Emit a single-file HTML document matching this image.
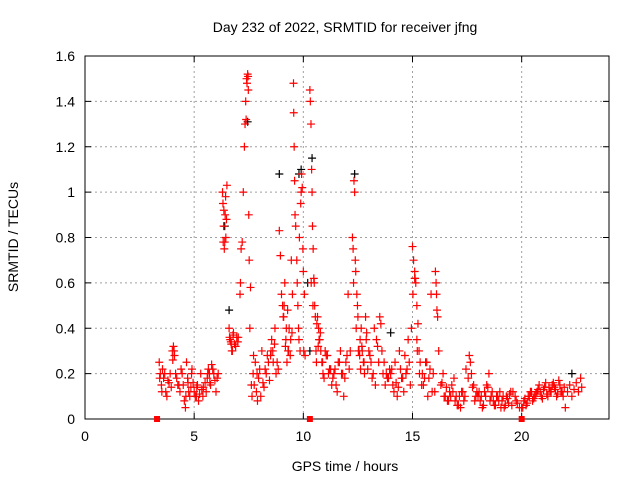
<!DOCTYPE html>
<html><head><meta charset="utf-8"><style>
body{margin:0;background:#fff}
svg{display:block;font-family:"Liberation Sans",sans-serif}
</style></head><body>
<svg id="chart" width="640" height="480" viewBox="0 0 640 480">
<rect width="640" height="480" fill="#fff"/>
<g id="grid"></g>
<g id="axes"></g>
<g id="marks"></g>
<text x="345" y="32" font-size="14" text-anchor="middle">Day 232 of 2022, SRMTID for receiver jfng</text>
<text x="345" y="471" font-size="14" text-anchor="middle">GPS time / hours</text>
<text x="18" y="237" font-size="14" text-anchor="middle" transform="rotate(-90 18 237)">SRMTID / TECUs</text>
</svg>
<script>
const xTicks=[0,5,10,15,20];
const yTicks=[0,0.2,0.4,0.6,0.8,1,1.2,1.4,1.6];
const yTickLabels=["0","0.2","0.4","0.6","0.8","1","1.2","1.4","1.6"];
const redTimes=[3.4,3.45,3.5,3.55,3.6,3.7,3.75,3.8,3.9,3.95,
4.0,4.05,4.1,4.2,4.3,4.4,
4.45,4.5,4.55,4.6,4.65,4.7,4.75,4.8,4.85,4.9,4.95,
5.0,5.1,5.15,5.2,5.3,5.35,5.4,5.5,5.55,
5.6,5.65,5.7,5.75,5.8,5.9,5.95,6.0,6.1,
6.3,6.32,6.35,6.38,6.4,6.42,6.45,6.48,6.5,
6.6,6.65,6.7,6.75,6.8,6.9,6.95,7.0,
7.1,7.12,7.15,7.2,7.25,7.3,7.33,7.36,7.4,7.45,7.48,7.5,7.52,7.55,7.58,
7.65,7.7,7.75,7.8,7.85,7.9,7.95,8.0,8.1,8.2,8.3,8.4,8.45,
8.5,8.55,8.6,8.7,8.75,8.8,8.9,8.95,9.0,
9.05,9.1,9.15,9.2,9.25,9.3,9.35,9.4,9.45,9.5,
9.55,9.56,9.58,9.6,9.62,9.65,9.7,9.72,9.75,9.78,9.8,9.85,9.88,9.9,9.95,10.0,10.05,
10.3,10.32,10.35,10.38,10.4,10.42,10.45,10.48,10.5,10.52,10.55,10.58,10.6,
10.65,10.7,10.75,10.8,10.85,10.9,10.95,11.0,11.1,11.2,11.3,11.4,
11.5,11.6,11.7,11.8,11.85,11.9,12.0,12.1,12.15,
12.25,12.28,12.3,12.32,12.35,12.38,12.4,12.45,12.48,12.5,12.55,
12.6,12.65,12.7,12.75,12.8,12.85,12.9,13.0,13.1,13.2,13.3,13.4,
13.5,13.55,13.6,13.7,13.8,13.9,13.95,
14.0,14.1,14.2,14.3,14.4,14.5,14.6,14.7,14.8,14.85,14.9,
15.0,15.05,15.1,15.15,15.2,15.25,15.3,15.35,15.2,15.1,
15.45,15.5,15.6,15.7,15.75,15.8,15.9,15.95,
16.05,16.08,16.1,16.12,16.15,16.2,
16.3,16.4,16.5,16.6,16.7,16.8,16.9,17.0,17.1,17.2,17.3,17.4,
17.6,17.65,17.7,17.8,17.9,17.95,
18.0,18.1,18.2,18.3,18.4,18.5,18.6,18.7,18.8,18.9,19.0,19.1,19.2,19.3,19.4,19.5,19.7,19.9,
20.0,20.1,20.2,20.3,20.4,20.5,20.6,20.7,20.8,20.9,21.0,21.1,21.2,21.3,21.4,21.5,21.6,21.7,21.8,21.9,22.0,22.2,22.4,22.7,
3.42,3.52,3.65,3.85,4.02,4.08,4.15,4.25,4.35,4.62,4.72,4.88,5.05,5.12,5.25,5.42,5.62,5.72,5.85,6.05,
6.33,6.36,6.44,6.62,6.68,6.72,6.78,6.85,7.02,7.38,7.42,7.47,7.62,7.72,7.88,8.05,8.15,8.25,8.35,8.52,8.62,8.68,8.85,
9.08,9.12,9.18,9.22,9.28,9.32,9.42,9.48,9.82,9.92,9.98,10.02,10.08,10.36,10.44,10.62,10.68,10.72,10.78,10.88,11.05,11.15,11.25,11.35,
11.45,11.55,11.65,11.75,11.95,12.05,12.42,12.52,12.58,12.62,12.68,12.78,12.88,12.95,13.05,13.15,13.25,13.35,13.45,13.65,13.75,13.85,
14.05,14.15,14.25,14.35,14.45,14.55,14.65,14.75,14.95,15.02,15.12,15.22,15.32,15.42,15.55,15.65,15.85,16.02,16.35,16.45,16.55,16.65,16.75,16.85,16.95,
17.05,17.15,17.25,17.35,17.45,17.55,17.75,17.85,18.05,18.15,18.25,18.35,18.45,18.55,18.65,18.75,18.85,18.95,19.05,19.15,19.25,19.35,19.45,19.55,19.6,19.75,19.8,
20.05,20.15,20.25,20.35,20.45,20.55,20.65,20.75,20.85,20.95,21.05,21.15,21.25,21.35,21.45,21.55,21.65,21.75,21.85,21.95,22.1,22.3,22.5,22.6,22.75,22.8];
const redValues=[0.25,0.2,0.15,0.22,0.18,0.12,0.1,0.17,0.2,0.14,
0.3,0.32,0.28,0.18,0.15,0.22,
0.2,0.15,0.08,0.05,0.25,0.18,0.12,0.1,0.14,0.22,0.16,
0.12,0.1,0.15,0.08,0.2,0.13,0.1,0.16,0.12,
0.18,0.22,0.2,0.15,0.24,0.2,0.17,0.12,0.2,
1.0,0.95,0.85,0.75,0.78,0.9,0.8,0.88,1.03,
0.4,0.35,0.33,0.3,0.38,0.32,0.36,0.34,
0.55,0.6,0.75,0.78,1.0,1.2,1.3,1.4,1.5,1.52,1.45,0.9,0.7,0.4,0.58,
0.1,0.2,0.15,0.25,0.12,0.08,0.18,0.22,0.3,0.14,0.2,0.25,0.17,
0.28,0.35,0.3,0.4,0.2,0.25,0.83,0.72,0.55,
0.5,0.45,0.6,0.35,0.25,0.3,0.4,0.28,0.7,0.55,
1.48,1.35,1.2,1.05,0.9,0.85,0.7,0.6,0.5,0.4,0.35,0.3,0.95,1.0,1.02,0.65,0.55,
1.45,1.4,1.3,1.1,1.0,0.85,0.75,0.62,0.6,0.5,0.45,0.3,0.25,
0.45,0.4,0.35,0.3,0.25,0.2,0.18,0.3,0.28,0.22,0.15,0.2,
0.15,0.25,0.3,0.2,0.1,0.18,0.28,0.22,0.3,
0.8,0.75,0.6,1.05,1.0,0.7,0.65,0.55,0.5,0.45,0.3,
0.35,0.4,0.3,0.25,0.2,0.45,0.38,0.3,0.25,0.2,0.15,0.32,
0.45,0.42,0.3,0.25,0.2,0.18,0.22,
0.2,0.15,0.25,0.1,0.3,0.18,0.12,0.2,0.35,0.25,0.15,
0.76,0.7,0.65,0.6,0.5,0.42,0.3,0.25,0.35,0.62,
0.2,0.15,0.25,0.1,0.18,0.22,0.12,0.2,
0.65,0.6,0.55,0.48,0.45,0.3,
0.15,0.2,0.1,0.08,0.12,0.15,0.18,0.1,0.06,0.05,0.12,0.1,
0.28,0.25,0.2,0.15,0.1,0.12,
0.1,0.08,0.05,0.12,0.15,0.2,0.1,0.08,0.06,0.1,0.12,0.08,0.05,0.1,0.07,0.12,0.1,0.05,
0.05,0.08,0.06,0.1,0.12,0.08,0.1,0.12,0.15,0.1,0.13,0.16,0.1,0.12,0.15,0.14,0.1,0.17,0.12,0.1,0.05,0.15,0.13,0.18,
0.18,0.12,0.2,0.16,0.26,0.3,0.2,0.15,0.12,0.1,0.16,0.2,0.1,0.14,0.11,0.14,0.2,0.16,0.22,0.18,
0.78,0.92,0.98,0.36,0.34,0.3,0.37,0.33,0.36,1.32,1.48,1.51,0.15,0.28,0.2,0.1,0.16,0.22,0.28,0.3,0.25,0.33,0.22,
0.45,0.5,0.32,0.4,0.48,0.3,0.35,0.38,0.8,1.08,0.75,0.3,0.28,0.6,0.5,0.42,0.32,0.35,0.38,0.25,0.28,0.2,0.22,
0.18,0.22,0.12,0.25,0.2,0.25,0.55,0.4,0.3,0.28,0.22,0.32,0.25,0.35,0.22,0.28,0.18,0.4,0.35,0.25,0.2,0.15,
0.18,0.22,0.12,0.16,0.14,0.22,0.18,0.28,0.22,0.4,0.55,0.62,0.3,0.2,0.15,0.18,0.25,0.55,0.12,0.16,0.1,0.14,0.08,0.1,0.12,
0.08,0.06,0.1,0.12,0.08,0.22,0.18,0.14,0.08,0.12,0.1,0.06,0.1,0.14,0.08,0.12,0.06,0.1,0.08,0.05,0.1,0.06,0.09,0.11,0.06,0.12,0.08,
0.07,0.05,0.09,0.07,0.1,0.12,0.09,0.11,0.13,0.12,0.09,0.14,0.11,0.14,0.12,0.16,0.13,0.11,0.15,0.12,0.14,0.12,0.1,0.16,0.12,0.14];
const blackTimes=[6.4,6.6,7.45,8.9,9.8,9.9,10.2,10.3,10.4,12.35,14.0,22.3];
const blackValues=[0.85,0.48,1.31,1.08,1.08,1.1,0.6,0.3,1.15,1.08,0.38,0.2];
const gapTimes=[3.3,10.3,20.0];
const X0=85,X1=609,Y0=419,Y1=56;
const xs=t=>X0+(t/24)*(X1-X0);
const ys=v=>Y0-(v/1.6)*(Y0-Y1);
const NS='http://www.w3.org/2000/svg';
function mk(tag,at,parent){const e=document.createElementNS(NS,tag);for(const k in at)e.setAttribute(k,at[k]);parent.appendChild(e);return e;}
const grid=document.getElementById('grid'),axes=document.getElementById('axes'),marks=document.getElementById('marks');
xTicks.forEach(t=>{
 if(t>0){const g=mk('line',{x1:xs(t),x2:xs(t),y1:Y1,y2:Y0,stroke:'#a0a0a0','stroke-dasharray':'2,3'},grid);
 
 }
 mk('line',{x1:xs(t),x2:xs(t),y1:Y0,y2:Y0-6,stroke:'#000'},axes);
 mk('line',{x1:xs(t),x2:xs(t),y1:Y1,y2:Y1+6,stroke:'#000'},axes);
 const l=mk('text',{x:xs(t),y:Y0+22,'font-size':14,'text-anchor':'middle'},axes);l.textContent=t;
 
 
});
yTicks.forEach((v,i)=>{
 if(v>0&&v<1.6){const g=mk('line',{x1:X0,x2:X1,y1:ys(v),y2:ys(v),stroke:'#a0a0a0','stroke-dasharray':'2,3'},grid);
 
 }
 mk('line',{x1:X0,x2:X0+6,y1:ys(v),y2:ys(v),stroke:'#000'},axes);
 mk('line',{x1:X1,x2:X1-6,y1:ys(v),y2:ys(v),stroke:'#000'},axes);
 const l=mk('text',{x:X0-10,y:ys(v)+5,'font-size':14,'text-anchor':'end'},axes);l.textContent=yTickLabels[i];
 
 
});
const fr=mk('rect',{x:X0,y:Y1,width:X1-X0,height:Y0-Y1,fill:'none',stroke:'#000'},axes);


function plus(t,v,c,name){
 const x=xs(t),y=ys(v);
 const p=mk('path',{d:`M${x-4},${y}h8M${x},${y-4}v8`,stroke:c,'stroke-width':1.2,fill:'none'},marks);
 
 
}
blackTimes.forEach((t,i)=>plus(t,blackValues[i],'#000','black-point'));
redTimes.forEach((t,i)=>plus(t,redValues[i],'#ff0000','red-point'));
gapTimes.forEach(t=>{
 const r=mk('rect',{x:xs(t)-3,y:Y0-3,width:6,height:6,fill:'#ff0000'},marks);
 
 
});
</script>
</body></html>
